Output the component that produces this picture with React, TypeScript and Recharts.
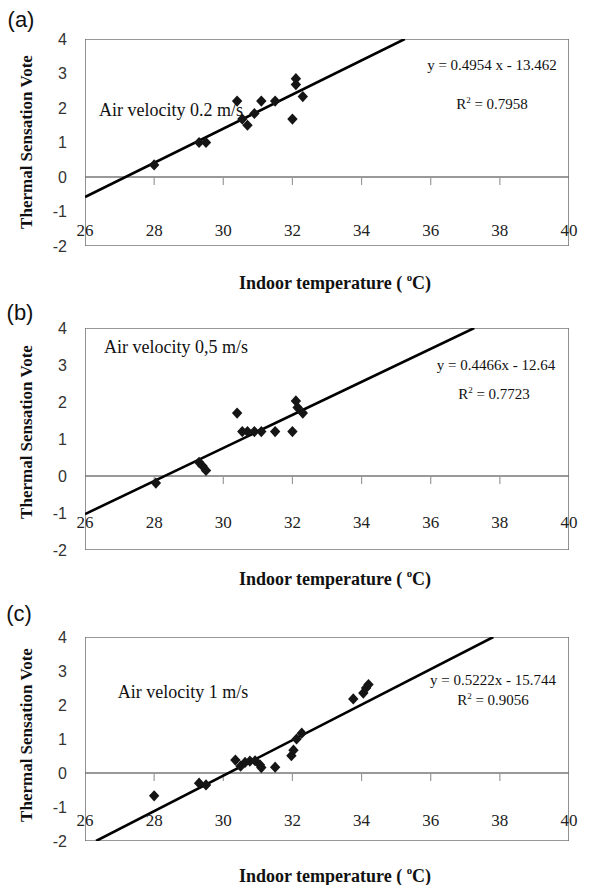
import React from 'react';
import { ScatterChart, Scatter, XAxis, YAxis, ZAxis } from 'recharts';

const xTicks = [26, 28, 30, 32, 34, 36, 38, 40];
const yTicks = [-2, -1, 0, 1, 2, 3, 4];

const pointsA = [
  { x: 28.0, y: 0.35 }, { x: 29.3, y: 1.0 }, { x: 29.5, y: 1.0 }, { x: 30.4, y: 2.2 },
  { x: 30.55, y: 1.68 }, { x: 30.7, y: 1.5 }, { x: 30.9, y: 1.84 }, { x: 31.1, y: 2.2 },
  { x: 31.5, y: 2.2 }, { x: 32.0, y: 1.68 }, { x: 32.1, y: 2.85 }, { x: 32.1, y: 2.68 },
  { x: 32.3, y: 2.33 },
];
const trendA = [{ x: 26, y: -0.58 }, { x: 35.25, y: 4 }];

const pointsB = [
  { x: 28.05, y: -0.19 }, { x: 29.3, y: 0.37 }, { x: 29.4, y: 0.27 }, { x: 29.5, y: 0.15 },
  { x: 30.4, y: 1.7 }, { x: 30.55, y: 1.2 }, { x: 30.7, y: 1.2 }, { x: 30.9, y: 1.2 },
  { x: 31.1, y: 1.2 }, { x: 31.5, y: 1.2 }, { x: 32.0, y: 1.2 }, { x: 32.1, y: 2.03 },
  { x: 32.15, y: 1.85 }, { x: 32.3, y: 1.7 },
];
const trendB = [{ x: 26, y: -1.03 }, { x: 37.26, y: 4 }];

const pointsC = [
  { x: 28.0, y: -0.67 }, { x: 29.3, y: -0.3 }, { x: 29.5, y: -0.35 }, { x: 30.35, y: 0.38 },
  { x: 30.5, y: 0.2 }, { x: 30.63, y: 0.31 }, { x: 30.77, y: 0.35 }, { x: 30.92, y: 0.36 },
  { x: 31.06, y: 0.24 }, { x: 31.1, y: 0.16 }, { x: 31.5, y: 0.17 }, { x: 31.97, y: 0.51 },
  { x: 32.03, y: 0.67 }, { x: 32.12, y: 1.0 }, { x: 32.27, y: 1.17 }, { x: 33.76, y: 2.18 },
  { x: 34.05, y: 2.35 }, { x: 34.13, y: 2.5 }, { x: 34.2, y: 2.6 },
];
const trendC = [{ x: 26.32, y: -2 }, { x: 37.81, y: 4 }];

const zeroLine = [{ x: 26, y: 0 }, { x: 40, y: 0 }];
const zeroTicks = xTicks.slice(1, -1).map((t) => ({ x: t, y: 0 }));
const frameLoop = [
  { x: 26, y: -2 }, { x: 40, y: -2 }, { x: 40, y: 4 }, { x: 26, y: 4 }, { x: 26, y: -2 },
];
const yTickPts = yTicks.map((v) => ({ x: 26, y: v }));

const SERIF = '"Liberation Serif", "Times New Roman", serif';
const SANS = '"Liberation Sans", Arial, sans-serif';
const FRAME = '#777777';

const Diamond = (props: any) => {
  const { cx, cy } = props;
  if (cx == null || cy == null) return <g />;
  const h = 5.2;
  const v = 5.6;
  return (
    <polygon
      points={`${cx},${cy - v} ${cx + h},${cy} ${cx},${cy + v} ${cx - h},${cy}`}
      fill="#151515"
    />
  );
};

const NoShape = () => <g />;

const TickMark = (props: any) => {
  const { cx, cy } = props;
  if (cx == null || cy == null) return <g />;
  return <path d={`M${cx},${cy}L${cx},${cy + 8}`} stroke="#999999" strokeWidth={1.2} fill="none" />;
};

const YTickMark = (props: any) => {
  const { cx, cy } = props;
  if (cx == null || cy == null) return <g />;
  return <path d={`M${cx - 6},${cy}L${cx},${cy}`} stroke="#888888" strokeWidth={1.2} fill="none" />;
};

type PanelProps = {
  top: number;
  plot: { left: number; right: number; top: number; bottom: number };
  points: { x: number; y: number }[];
  trend: { x: number; y: number }[];
  xLabelOffset: number;
};

const W = 598;
const H = 295;
const Y_AXIS_W = 40;
const X_AXIS_H = 20;

function Panel({ top, plot, points, trend, xLabelOffset }: PanelProps) {
  const margin = {
    top: plot.top - top,
    left: plot.left - Y_AXIS_W,
    right: W - plot.right,
    bottom: top + H - plot.bottom - X_AXIS_H,
  };
  const localBottom = plot.bottom - top;
  const XTick = (p: any) => (
    <text
      x={p.x}
      y={localBottom - xLabelOffset}
      textAnchor="middle"
      dominantBaseline="central"
      fontFamily={SERIF}
      fontSize={17}
      fill="#222"
    >
      {p.payload.value}
    </text>
  );
  return (
    <div style={{ position: 'absolute', left: 0, top, width: W, height: H }}>
      <ScatterChart width={W} height={H} margin={margin}>
        <XAxis
          type="number"
          dataKey="x"
          domain={[26, 40]}
          ticks={xTicks}
          interval={0}
          allowDataOverflow
          height={X_AXIS_H}
          axisLine={false}
          tickLine={false}
          tickSize={0}
          tick={XTick}
        />
        <YAxis
          type="number"
          dataKey="y"
          domain={[-2, 4]}
          ticks={yTicks}
          interval={0}
          allowDataOverflow
          width={Y_AXIS_W}
          axisLine={false}
          tickLine={false}
          tickSize={6}
          tickMargin={12}
          tick={{ fill: '#333', fontSize: 16, fontFamily: SANS }}
        />
        <ZAxis range={[60, 60]} />
        <Scatter
          data={frameLoop}
          line={{ stroke: FRAME, strokeWidth: 1.6 }}
          stroke={FRAME}
          fill="none"
          shape={NoShape}
          isAnimationActive={false}
        />
        <Scatter
          data={zeroLine}
          line={{ stroke: FRAME, strokeWidth: 1.6 }}
          stroke={FRAME}
          fill="none"
          shape={NoShape}
          isAnimationActive={false}
        />
        <Scatter data={zeroTicks} shape={TickMark} isAnimationActive={false} />
        <Scatter data={yTickPts} shape={YTickMark} isAnimationActive={false} />
        <Scatter
          data={trend}
          line={{ stroke: '#000', strokeWidth: 2.6 }}
          stroke="#000"
          shape={NoShape}
          isAnimationActive={false}
        />
        <Scatter data={points} shape={Diamond} isAnimationActive={false} />
      </ScatterChart>
    </div>
  );
}

const Txt = ({ x, y, size, bold, family, rotate, children }: any) => (
  <div
    style={{
      position: 'absolute',
      left: x,
      top: y,
      transform: `translate(-50%, -50%)${rotate ? ' rotate(-90deg)' : ''}`,
      fontSize: size,
      fontWeight: bold ? 'bold' : 'normal',
      fontFamily: family,
      whiteSpace: 'nowrap',
      lineHeight: 1,
      color: '#111',
    }}
  >
    {children}
  </div>
);

const Sup = ({ children }: any) => (
  <span style={{ fontSize: '0.6em', verticalAlign: '0.75em' }}>{children}</span>
);

const XTitle = ({ y }: { y: number }) => (
  <Txt x={335} y={y} size={18} bold family={SERIF}>
    Indoor temperature ( <Sup>o</Sup>C)
  </Txt>
);

const YTitle = ({ y }: { y: number }) => (
  <Txt x={26} y={y} size={17} bold family={SERIF} rotate>
    Thermal Sensation Vote
  </Txt>
);

export default function App() {
  return (
    <div style={{ position: 'absolute', left: 0, top: 0, width: 598, height: 885, background: '#fff', overflow: 'hidden' }}>
      <Panel top={0} plot={{ left: 85, right: 569, top: 39, bottom: 246 }} points={pointsA} trend={trendA} xLabelOffset={16} />
      <Panel top={295} plot={{ left: 85, right: 569, top: 328, bottom: 550 }} points={pointsB} trend={trendB} xLabelOffset={28} />
      <Panel top={590} plot={{ left: 85, right: 569, top: 637, bottom: 841 }} points={pointsC} trend={trendC} xLabelOffset={21} />

      <Txt x={21} y={20} size={22} family={SANS}>(a)</Txt>
      <Txt x={20} y={313} size={22} family={SANS}>(b)</Txt>
      <Txt x={19} y={614} size={22} family={SANS}>(c)</Txt>

      <YTitle y={142} />
      <YTitle y={432} />
      <YTitle y={735} />

      <XTitle y={282} />
      <XTitle y={578} />
      <XTitle y={875} />

      <Txt x={171} y={110} size={18} family={SERIF}>Air velocity 0.2 m/s</Txt>
      <Txt x={492} y={65} size={15} family={SERIF}>y = 0.4954 x - 13.462</Txt>
      <Txt x={492} y={104} size={15} family={SERIF}>R<Sup>2</Sup> = 0.7958</Txt>

      <Txt x={176} y={347} size={18} family={SERIF}>Air velocity 0,5 m/s</Txt>
      <Txt x={496} y={365} size={15} family={SERIF}>y = 0.4466x - 12.64</Txt>
      <Txt x={494} y={394} size={15} family={SERIF}>R<Sup>2</Sup> = 0.7723</Txt>

      <Txt x={183} y={692} size={18} family={SERIF}>Air velocity 1 m/s</Txt>
      <Txt x={493} y={680} size={15} family={SERIF}>y = 0.5222x - 15.744</Txt>
      <Txt x={493} y={700} size={15} family={SERIF}>R<Sup>2</Sup> = 0.9056</Txt>
    </div>
  );
}
